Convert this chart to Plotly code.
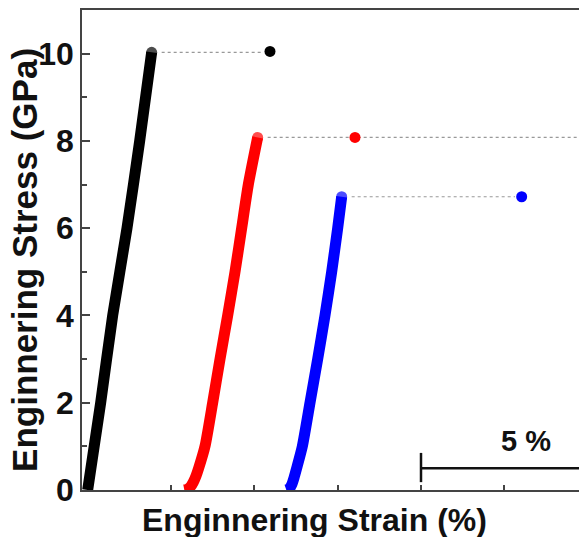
import plotly.graph_objects as go

# ---- data (strain in %, stress in GPa) ----
black_strain = [0.00, 0.39, 0.75, 1.18, 1.56, 1.92]
black_stress = [0.00, 2.00, 4.00, 6.00, 8.00, 10.03]

red_strain = [2.90, 3.00, 3.09, 3.17, 3.25, 3.33, 3.52, 3.75, 3.97, 4.20, 4.42, 4.62, 4.82, 5.10]
red_stress = [0.00, 0.02, 0.08, 0.18, 0.32, 0.50, 1.00, 2.00, 3.00, 4.00, 5.00, 6.00, 7.00, 8.08]

blue_strain = [5.96, 6.05, 6.12, 6.19, 6.27, 6.44, 6.67, 6.90, 7.12, 7.32, 7.50, 7.62]
blue_stress = [0.00, 0.03, 0.12, 0.28, 0.50, 1.00, 2.00, 3.00, 4.00, 5.00, 6.00, 6.72]

fracture_strain = [5.47, 8.02, 13.02]
fracture_stress = [10.05, 8.08, 6.72]

colors = ["#000000", "#ff0000", "#0000ff"]
y_ticks = [0, 2, 4, 6, 8, 10]
x_ticks = [2.5, 5.0, 7.5, 10.0, 12.5]
x_range = [-0.17, 14.74]
y_range = [0, 11]

scalebar_start = 10.0
scalebar_length = 5.0
scalebar_label = "5 %"

FONT = "Liberation Sans, Arial, sans-serif"

fig = go.Figure()

curves = [(black_strain, black_stress), (red_strain, red_stress), (blue_strain, blue_stress)]

# dotted guide lines from curve top to the fracture point
for i, (xs, ys) in enumerate(curves):
    x_end = fracture_strain[i] - 0.2 if i != 1 else x_range[1] + 1
    fig.add_trace(go.Scatter(
        x=[xs[-1] + 0.3, x_end], y=[ys[-1], ys[-1]], mode="lines",
        line=dict(color="#999999", width=1.2, dash="dot"),
        hoverinfo="skip", showlegend=False))

for i, (xs, ys) in enumerate(curves):
    sizes = [0] * (len(xs) - 1) + [11]
    fig.add_trace(go.Scatter(
        x=xs, y=ys, mode="lines+markers",
        line=dict(color=colors[i], width=11, shape="spline", smoothing=0.6),
        marker=dict(color=colors[i], size=sizes, line=dict(width=0)),
        showlegend=False))

fig.add_trace(go.Scatter(
    x=fracture_strain, y=fracture_stress, mode="markers",
    marker=dict(color=colors, size=11, line=dict(width=0)),
    showlegend=False))

# scale bar
fig.add_shape(type="line", x0=scalebar_start, x1=scalebar_start + scalebar_length,
              y0=0.5, y1=0.5, line=dict(color="#111111", width=2.5))
fig.add_shape(type="line", x0=scalebar_start, x1=scalebar_start,
              y0=0.18, y1=0.85, line=dict(color="#111111", width=2.5))
fig.add_annotation(x=scalebar_start + 3.15, y=1.12, text=scalebar_label, showarrow=False,
                   font=dict(family=FONT, size=29, color="#111111", weight="bold"),
                   xanchor="center", yanchor="middle")

# axis titles
fig.add_annotation(xref="paper", yref="paper", x=0.467, y=-0.0625,
                   text="Enginnering Strain (%)", showarrow=False,
                   font=dict(family=FONT, size=32, color="#111111", weight="bold"),
                   xanchor="center", yanchor="middle")
fig.add_annotation(xref="paper", yref="paper", x=-0.117, y=0.479,
                   text="Enginnering Stress (GPa)", showarrow=False, textangle=-90,
                   font=dict(family=FONT, size=35, color="#111111", weight="bold"),
                   xanchor="center", yanchor="middle")

fig.update_layout(
    width=579, height=537,
    margin=dict(l=82, r=0, t=10, b=47),
    paper_bgcolor="white", plot_bgcolor="white",
    xaxis=dict(range=x_range, showline=True, linecolor="#444444", linewidth=1.5,
               mirror=True, ticks="inside", ticklen=5, tickwidth=1.5, tickcolor="#444444",
               tickvals=x_ticks, showticklabels=False, showgrid=False, zeroline=False),
    yaxis=dict(range=y_range, showline=True, linecolor="#444444", linewidth=1.5,
               ticks="inside", ticklen=8, tickwidth=1.5, tickcolor="#444444",
               tickvals=y_ticks, showgrid=False, zeroline=False,
               tickfont=dict(family=FONT, size=32, color="#111111", weight="bold"),
               minor=dict(ticks="inside", ticklen=5, dtick=1, tick0=0,
                          tickcolor="#444444", tickwidth=1.5, showgrid=False)),
)

fig.write_html("out.html", config={"displayModeBar": False},
               post_script="document.body.style.margin='0';document.body.style.overflow='hidden';")
